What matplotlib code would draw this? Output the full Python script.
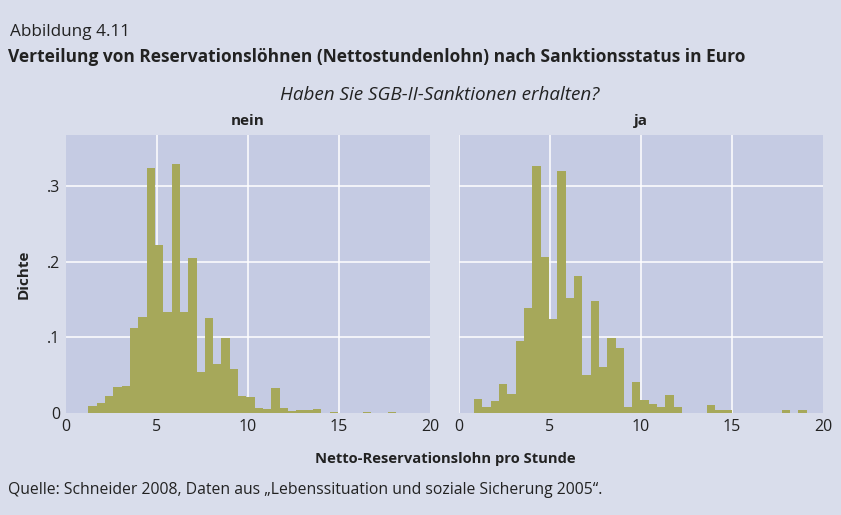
import numpy as np
import matplotlib
matplotlib.use("Agg")
import matplotlib.pyplot as plt

# Daten: Dichte je Klasse (Breite ca. 0.457 Euro)
bin_width = 0.457

nein_start = 1.23
nein_dichte = [0.0090, 0.0130, 0.0220, 0.0340, 0.0350, 0.1120, 0.1265, 0.3235,
               0.2217, 0.1330, 0.3290, 0.1330, 0.2045, 0.0538, 0.1250, 0.0643,
               0.0987, 0.0577, 0.0222, 0.0210, 0.0066, 0.0053, 0.0330, 0.0066,
               0.0026, 0.0040, 0.0040, 0.0053, 0.0000, 0.0013, 0.0000, 0.0000,
               0.0000, 0.0013, 0.0000, 0.0000, 0.0013]

ja_start = 0.83
ja_dichte = [0.0183, 0.0077, 0.0156, 0.0379, 0.0247, 0.0948, 0.1384, 0.3260,
             0.2058, 0.1238, 0.3195, 0.1516, 0.1807, 0.0498, 0.1476, 0.0604,
             0.0987, 0.0855, 0.0077, 0.0405, 0.0172, 0.0119, 0.0079, 0.0238,
             0.0079, 0.0000, 0.0000, 0.0000, 0.0106, 0.0040, 0.0040, 0.0000,
             0.0000, 0.0000, 0.0000, 0.0000, 0.0000, 0.0040, 0.0000, 0.0040]

x_ticks = [0, 5, 10, 15, 20]
y_ticks = [0, 0.1, 0.2, 0.3]
y_ticklabels = ["0", ".1", ".2", ".3"]

# Farben
fig_bg = "#D9DDEB"
ax_bg = "#C5CBE3"
bar_col = "#A6A85A"
txt_col = "#222222"

plt.rcParams["font.family"] = ["Open Sans", "DejaVu Sans"]

fig = plt.figure(figsize=(8.41, 5.15), dpi=100, facecolor=fig_bg)

W, H = 841.0, 515.0
ax1 = fig.add_axes([66 / W, (H - 413) / H, 364 / W, 278 / H])
ax2 = fig.add_axes([459 / W, (H - 413) / H, 364 / W, 278 / H])

panels = [(ax1, nein_start, nein_dichte, "nein"), (ax2, ja_start, ja_dichte, "ja")]
for ax, start, dichte, name in panels:
    ax.set_facecolor(ax_bg)
    left = start + np.arange(len(dichte)) * bin_width
    ax.bar(left, dichte, width=bin_width, align="edge", color=bar_col,
           linewidth=0, zorder=3)
    ax.set_xlim(0, 20)
    ax.set_ylim(0, 0.367)
    for v in [5, 10, 15]:
        ax.axvline(v, color="white", lw=1.1, zorder=1)
    for v in y_ticks[1:]:
        ax.axhline(v, color="white", lw=1.1, zorder=1)
    ax.set_xticks(x_ticks)
    ax.set_yticks(y_ticks)
    ax.tick_params(length=0, labelsize=11.5, colors=txt_col, pad=4)
    for s in ax.spines.values():
        s.set_visible(False)
    ax.set_title(name, fontsize=11, fontweight="bold", color=txt_col, pad=7)

ax2.axvline(0, color="white", lw=1.1, zorder=1)
ax1.set_yticklabels(y_ticklabels)
ax2.set_yticklabels([])
ax1.set_ylabel("Dichte", fontsize=11, fontweight="bold", color=txt_col, labelpad=12)

fig.text(10 / W, 1 - 35.5 / H, "Abbildung 4.11", fontsize=12.3, color=txt_col,
         ha="left", va="baseline")
fig.text(8 / W, 1 - 62.5 / H,
         "Verteilung von Reservationslöhnen (Nettostundenlohn) nach Sanktionsstatus in Euro",
         fontsize=12.5, fontweight="bold", color=txt_col, ha="left", va="baseline")
fig.text(440 / W, 1 - 100 / H, "Haben Sie SGB-II-Sanktionen erhalten?",
         fontsize=13.6, style="italic", color=txt_col, ha="center", va="baseline")
fig.text(445 / W, 1 - 462.5 / H, "Netto-Reservationslohn pro Stunde",
         fontsize=10.6, fontweight="bold", color=txt_col, ha="center", va="baseline")
fig.text(8 / W, 1 - 493.5 / H,
         "Quelle: Schneider 2008, Daten aus \u201eLebenssituation und soziale Sicherung 2005\u201c.",
         fontsize=11.3, color=txt_col, ha="left", va="baseline")

fig.savefig("out.png", dpi=100, facecolor=fig_bg)
